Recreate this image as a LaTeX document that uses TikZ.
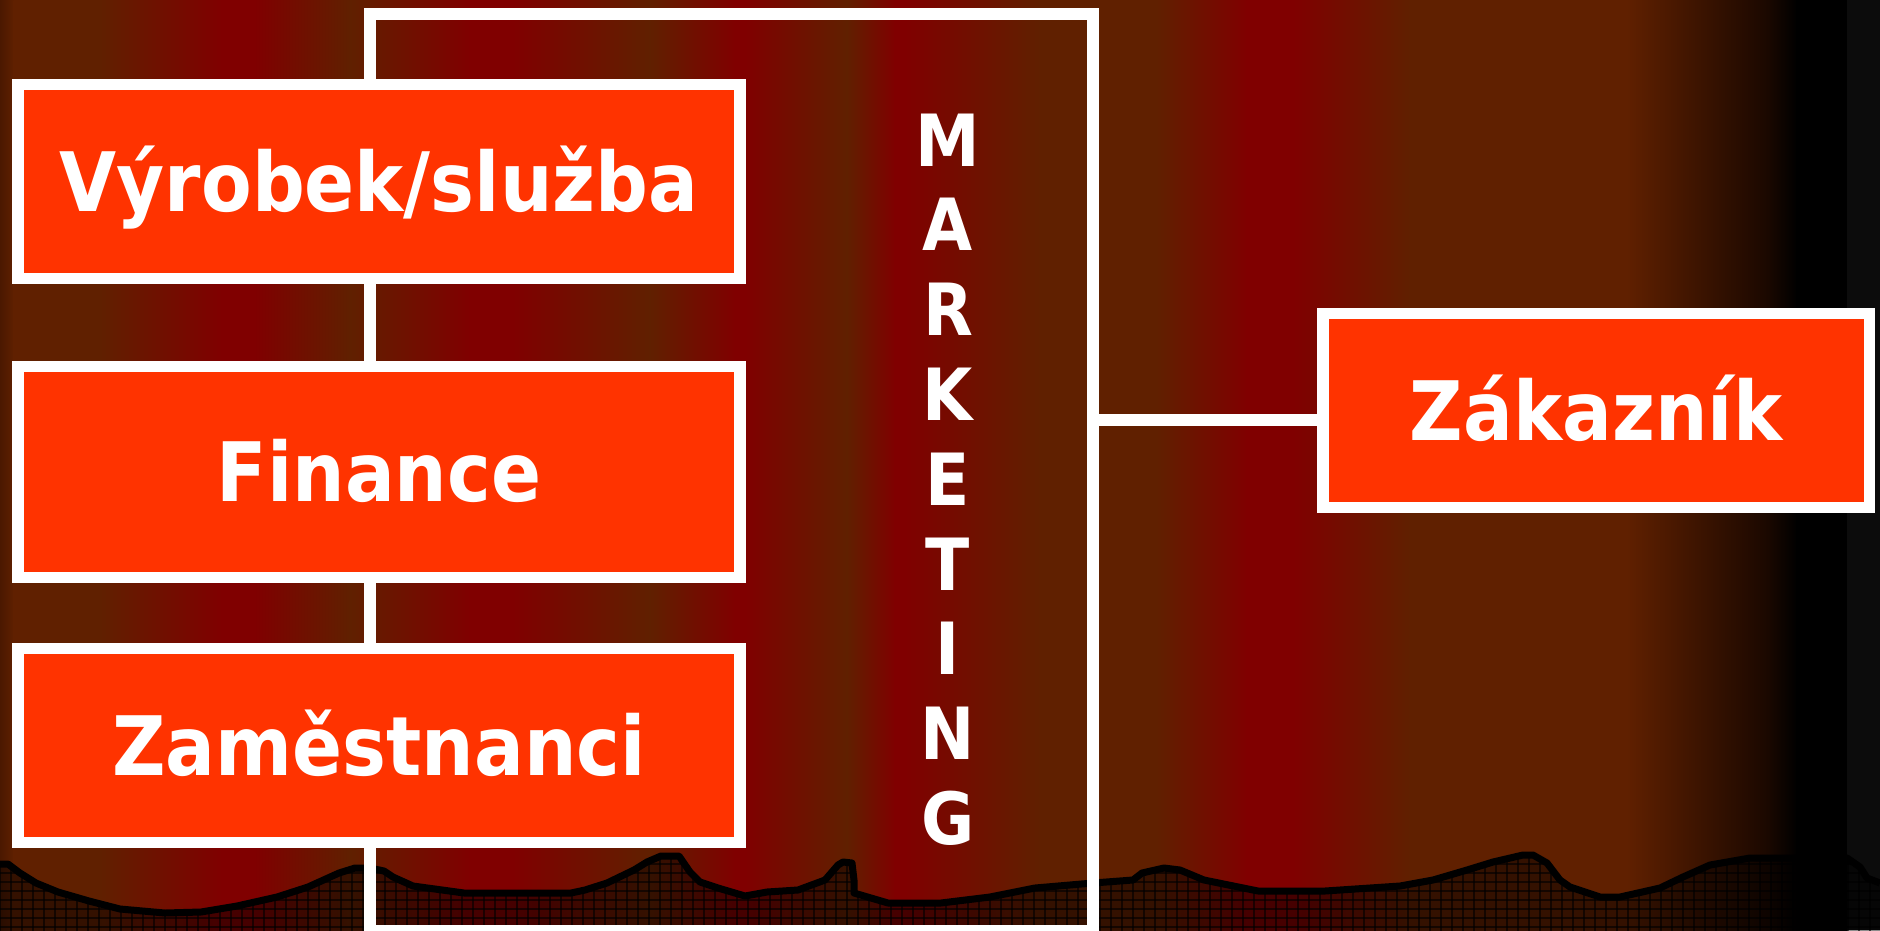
\documentclass[tikz,border=0pt]{standalone}
\usepackage{fontspec}
\setmainfont{DejaVu Sans}[FakeStretch=0.9]
\definecolor{br}{HTML}{602000}
\definecolor{rd}{HTML}{800000}
\definecolor{dk}{HTML}{4A1800}
\definecolor{bk}{HTML}{000000}
\definecolor{dd}{HTML}{1A0800}
\definecolor{gy}{HTML}{0C0C0C}
\definecolor{boxred}{HTML}{FF3300}
\def\wavepath{(0,864) -- (8,864) -- (20,873) -- (36,883) -- (58,892) -- (89,901) -- (120,909) -- (165,913) -- (201,912) -- (237,906) -- (277,897) -- (308,887) -- (339,873) -- (355,868) -- (370,868) -- (384,871) -- (393,877) -- (413,886) -- (464,893) -- (571,893) -- (585,890) -- (607,883) -- (634,870) -- (647,862) -- (661,856) -- (679,856) -- (690,872) -- (700,882) -- (718,888) -- (745,896) -- (767,892) -- (798,890) -- (825,880) -- (838,865) -- (843,862) -- (852,863) -- (854,880) -- (854,893) -- (888,903) -- (941,903) -- (990,897) -- (1035,888) -- (1093,883) -- (1133,880) -- (1142,873) -- (1164,868) -- (1180,870) -- (1204,880) -- (1258,891) -- (1325,891) -- (1400,886) -- (1433,880) -- (1467,870) -- (1493,862) -- (1523,855) -- (1533,855) -- (1547,863) -- (1560,880) -- (1570,887) -- (1600,897) -- (1620,897) -- (1660,888) -- (1683,877) -- (1710,865) -- (1750,858) -- (1847,858) -- (1860,867) -- (1867,878) -- (1880,883)}
\begin{document}
\begin{tikzpicture}[x=1pt,y=-1pt,
  box/.style={draw=white, fill=boxred, line width=11.5pt, inner sep=0pt, text=white,
    font=\bfseries\fontsize{82}{82}\selectfont, text height=59.8pt, text depth=0pt},
  mletter/.style={inner sep=0pt, text=white, font=\bfseries\fontsize{72}{72}\selectfont, anchor=base},
  link/.style={draw=white, line width=12pt}]
\useasboundingbox (0,0) rectangle (1880,930);
% background stripes
\foreach \xa/\ca/\xb/\cb in {0/dk/14/br, 14/br/100/br, 100/br/222/rd, 222/rd/255/rd, 255/rd/350/br,
  350/br/470/rd, 470/rd/513/rd, 513/rd/650/br, 650/br/735/rd, 735/rd/745/rd, 745/rd/847/br,
  847/br/895/rd, 895/rd/905/rd, 905/rd/1040/br, 1040/br/1157/br, 1157/br/1247/rd, 1247/rd/1293/rd,
  1293/rd/1410/br, 1410/br/1627/br, 1627/br/1768/dd, 1768/dd/1797/bk, 1797/bk/1847/bk}
  \shade[left color=\ca, right color=\cb] (\xa-0.5,0) rectangle (\xb+0.5,930);
\fill[gy] (1847,0) rectangle (1880,930);
% bottom band
\fill[black, fill opacity=0.45] \wavepath -- (1880,935) -- (0,935) -- cycle;
\begin{scope}
  \clip \wavepath -- (1880,935) -- (0,935) -- cycle;
  \foreach \gx in {0,11,...,1880} \draw[black, opacity=0.6, line width=1.3pt] (\gx,840) -- (\gx,935);
  \foreach \gy in {846,855,...,935} \draw[black, opacity=0.6, line width=1.3pt] (0,\gy) -- (1880,\gy);
\end{scope}
\draw[black, line width=7pt, line join=round] \wavepath;
% marketing frame
\node[draw=white, line width=12pt, minimum width=723pt, minimum height=917pt, inner sep=0pt] (mkt) at (731.5,472.5) {};
\foreach \l [count=\i] in {M,A,R,K,E,T,I,N,G}
  \node[mletter] (m\i) at (948,{166+84.8*(\i-1)}) {\l};
% boxes
\node[box, minimum width=722pt, minimum height=194pt] (vyr) at (379,181.5) {Výrobek/služba};
\node[box, minimum width=722pt, minimum height=211pt] (fin) at (379,472) {Finance};
\node[box, minimum width=722pt, minimum height=194pt] (zam) at (379,745.5) {Zaměstnanci};
\node[box, minimum width=546.5pt, minimum height=194pt] (zak) at (1596,410.5) {Zákazník};
\coordinate (j) at (1093,420);
\draw[link] (j) -- (j -| zak.west);
\end{tikzpicture}
\end{document}
